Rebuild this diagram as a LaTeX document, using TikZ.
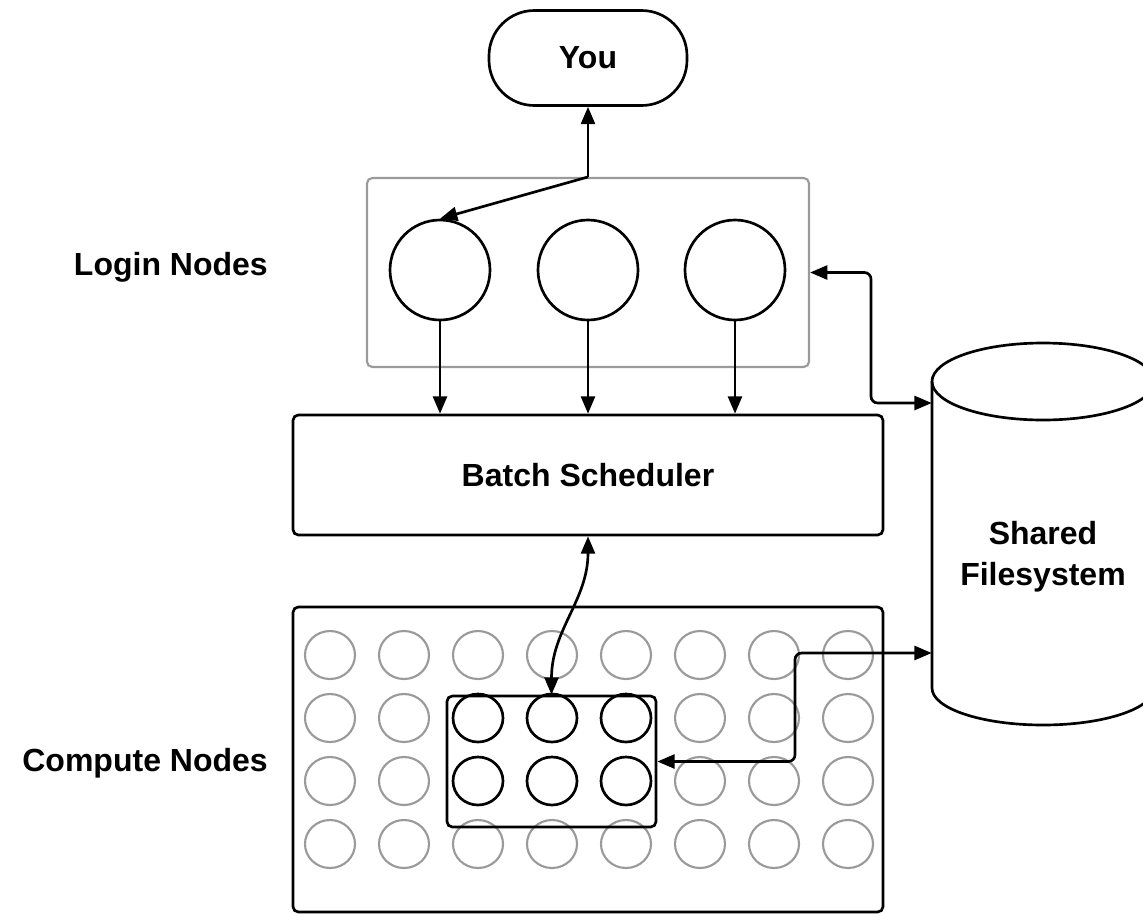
\documentclass[tikz,border=0pt]{standalone}
\usepackage{fontspec}
\setmainfont{Liberation Sans}
\usetikzlibrary{arrows.meta,shapes.geometric,calc}
\definecolor{idle}{HTML}{9A9A9A}
\begin{document}
\begin{tikzpicture}[x=0.75pt,y=-0.75pt,
  every node/.style={font=\fontsize{24}{30.75}\selectfont\bfseries,inner sep=0pt},
  ln/.style={line width=2pt,draw=black},
  onetip/.style={ln,-{Triangle[length=13pt,width=10.5pt]}},
  twotip/.style={ln,{Triangle[length=13pt,width=10.5pt]}-{Triangle[length=13pt,width=10.5pt]}},
  userbox/.style={ln,rectangle,rounded corners=34pt,minimum width=148.5pt,minimum height=71.25pt},
  loginframe/.style={rectangle,draw=idle,line width=1.6pt,rounded corners=4pt,minimum width=331.5pt,minimum height=141.75pt},
  loginnode/.style={ln,circle,minimum size=75pt},
  panel/.style={ln,rectangle,rounded corners=4pt},
  idlenode/.style={ellipse,draw=idle,line width=1.6pt,minimum width=37.5pt,minimum height=36pt},
  busynode/.style={ellipse,ln,minimum width=37.5pt,minimum height=36pt},
  sidelabel/.style={anchor=east}
]
\clip (0,0) rectangle (1143,915);
\useasboundingbox (0,0) rectangle (1143,915);

% user
\node[userbox] (you) at (588,58) {\raisebox{-2pt}{You}};

% login tier
\node[loginframe] (login) at (588,272.5) {};
\node[loginnode] (l1) at (440,270) {};
\node[loginnode] (l2) at (588,270) {};
\node[loginnode] (l3) at (735,270) {};
\node[sidelabel] (loginlbl) at (268,267) {Login Nodes};

% scheduler
\node[panel,minimum width=442.5pt,minimum height=90pt] (batch) at (588,475) {\raisebox{-3pt}{Batch Scheduler}};

% compute tier
\node[panel,minimum width=442.5pt,minimum height=228.75pt] (compute) at (588,759.5) {};
\foreach \r/\y in {1/655,2/718,3/781,4/844}{
  \foreach \c/\x in {1/330,2/404,3/478,4/552,5/626,6/700,7/774,8/848}{
    \pgfmathtruncatemacro{\job}{(\r==2 || \r==3) && (\c>=3 && \c<=5)}
    \ifnum\job=0
      \node[idlenode] (g-\r-\c) at (\x,\y) {};
    \fi
  }
}
\node[panel,minimum width=156.75pt,minimum height=98.25pt] (job) at (551.5,761.5) {};
\foreach \r/\y in {2/718,3/781}{
  \foreach \c/\x in {3/478,4/552,5/626}{
    \node[busynode] (b-\r-\c) at (\x,\y) {};
  }
}
\node[sidelabel] (computelbl) at (268,763) {Compute Nodes};

% shared filesystem: cylinder outline, then its label
\begin{scope}[ln]
  \draw[fill=white] (932,381.5) -- (932,688)
    arc[start angle=180,end angle=360,x radius=83.25pt,y radius=27.75pt] -- (1154,381.5);
  \draw (1043,381.5) ellipse[x radius=83.25pt,y radius=28.875pt];
\end{scope}
\node[minimum width=166.5pt,align=center] (fs) at (1043,557) {Shared\\Filesystem};

% connectors
\draw[onetip] (login.north) -- (you.south);
\draw[onetip] (login.north) -- (l1.north);
\foreach \n in {l1,l2,l3}{
  \draw[onetip] (\n.south) -- (\n.south |- batch.north);
}
\draw[twotip,rounded corners=5pt] (login.east) -- (871,272.5) |- (fs.west |- {(0,403)});
\draw[twotip] (batch.south) .. controls (588,600) and (551.5,630) .. (job.north);
\draw[twotip,rounded corners=5pt] (job.east) -- (795,761.5) |- (fs.west |- {(0,653)});
\end{tikzpicture}
\end{document}
